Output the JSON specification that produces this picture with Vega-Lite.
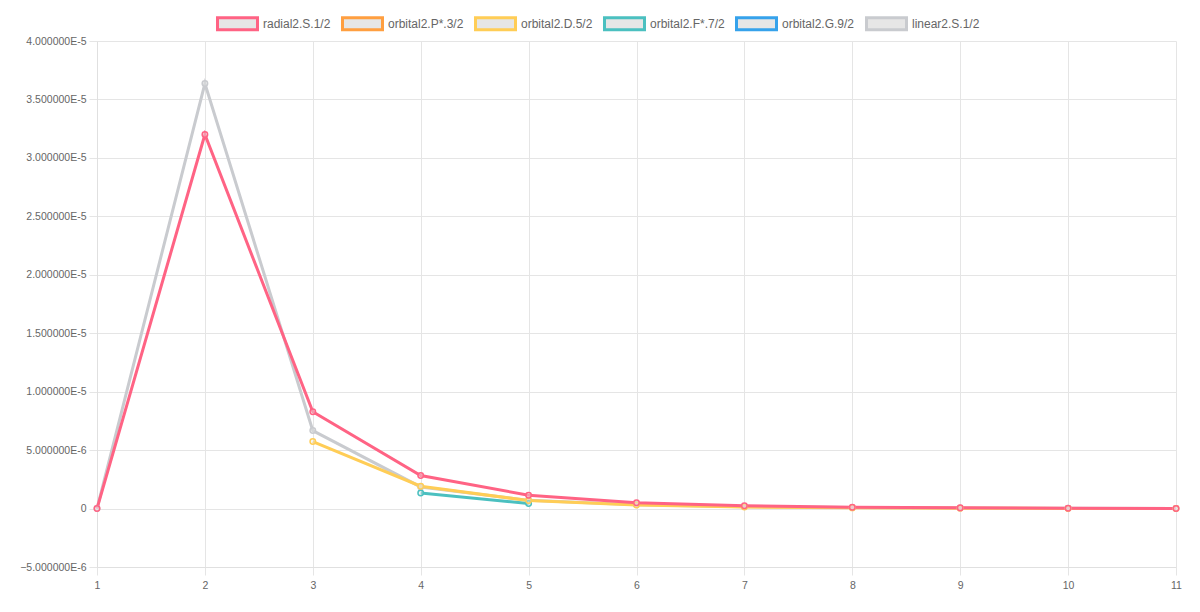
{
  "$schema": "https://vega.github.io/schema/vega-lite/v6.json",
  "autosize": "none",
  "width": 1079,
  "height": 526,
  "padding": {"left": 97, "top": 41, "right": 24, "bottom": 45},
  "background": "white",
  "config": {
    "view": {"stroke": null},
    "font": "Liberation Sans",
    "axis": {
      "gridColor": "#e5e5e5",
      "domainColor": "#e0e0e0",
      "tickColor": "#e5e5e5",
      "labelColor": "#666666",
      "labelFont": "Liberation Sans",
      "labelFontSize": 10.5,
      "tickSize": 8,
      "labelFlush": false,
      "labelOverlap": false,
      "title": null
    }
  },
  "data": {
    "values": [
      {"series": "linear2.S.1/2", "x": 1, "y": 0},
      {"series": "linear2.S.1/2", "x": 2, "y": 3.636e-5},
      {"series": "linear2.S.1/2", "x": 3, "y": 6.67e-6},
      {"series": "linear2.S.1/2", "x": 4, "y": 1.85e-6},
      {"series": "linear2.S.1/2", "x": 5, "y": 7.0e-7},
      {"series": "linear2.S.1/2", "x": 6, "y": 3.2e-7},
      {"series": "linear2.S.1/2", "x": 7, "y": 1.6e-7},
      {"series": "linear2.S.1/2", "x": 8, "y": 8e-8},
      {"series": "linear2.S.1/2", "x": 9, "y": 4e-8},
      {"series": "linear2.S.1/2", "x": 10, "y": 2e-8},
      {"series": "linear2.S.1/2", "x": 11, "y": 1e-8},
      {"series": "orbital2.F*.7/2", "x": 4, "y": 1.34e-6},
      {"series": "orbital2.F*.7/2", "x": 5, "y": 4.3e-7},
      {"series": "orbital2.D.5/2", "x": 3, "y": 5.73e-6},
      {"series": "orbital2.D.5/2", "x": 4, "y": 1.91e-6},
      {"series": "orbital2.D.5/2", "x": 5, "y": 6.8e-7},
      {"series": "orbital2.D.5/2", "x": 6, "y": 3.0e-7},
      {"series": "orbital2.D.5/2", "x": 7, "y": 1.3e-7},
      {"series": "orbital2.D.5/2", "x": 8, "y": 6e-8},
      {"series": "orbital2.D.5/2", "x": 9, "y": 3e-8},
      {"series": "orbital2.D.5/2", "x": 10, "y": 1e-8},
      {"series": "orbital2.D.5/2", "x": 11, "y": 0},
      {"series": "radial2.S.1/2", "x": 1, "y": 0},
      {"series": "radial2.S.1/2", "x": 2, "y": 3.2e-5},
      {"series": "radial2.S.1/2", "x": 3, "y": 8.28e-6},
      {"series": "radial2.S.1/2", "x": 4, "y": 2.82e-6},
      {"series": "radial2.S.1/2", "x": 5, "y": 1.14e-6},
      {"series": "radial2.S.1/2", "x": 6, "y": 5.0e-7},
      {"series": "radial2.S.1/2", "x": 7, "y": 2.4e-7},
      {"series": "radial2.S.1/2", "x": 8, "y": 1.2e-7},
      {"series": "radial2.S.1/2", "x": 9, "y": 6e-8},
      {"series": "radial2.S.1/2", "x": 10, "y": 3e-8},
      {"series": "radial2.S.1/2", "x": 11, "y": 0}
    ]
  },
  "encoding": {
    "x": {
      "field": "x", "type": "quantitative",
      "scale": {"domain": [1, 11], "nice": false, "zero": false},
      "axis": {"values": [1,2,3,4,5,6,7,8,9,10,11], "format": "d", "labelPadding": 5, "grid": true}
    },
    "y": {
      "field": "y", "type": "quantitative",
      "scale": {"domain": [-5e-6, 4e-5], "nice": false, "zero": false},
      "axis": {
        "values": [-5e-6, 0, 5e-6, 1e-5, 1.5e-5, 2e-5, 2.5e-5, 3e-5, 3.5e-5, 4e-5],
        "labelPadding": 3,
        "grid": true,
        "labelExpr": "abs(datum.value) < 1e-12 ? '0' : format(datum.value / pow(10, floor(log(abs(datum.value)) / LN10 + 1e-9)), '.6f') + 'E' + floor(log(abs(datum.value)) / LN10 + 1e-9)"
      }
    },
    "color": {
      "field": "series", "type": "nominal",
      "scale": {
        "domain": ["radial2.S.1/2", "orbital2.P*.3/2", "orbital2.D.5/2", "orbital2.F*.7/2", "orbital2.G.9/2", "linear2.S.1/2"],
        "range": ["#ff6384", "#ff9f40", "#ffcd56", "#4bc0c0", "#36a2eb", "#c9cbcf"]
      },
      "legend": {
        "orient": "none",
        "direction": "horizontal",
        "legendX": 119,
        "legendY": -39,
        "title": null,
        "symbolType": "M-1,-0.3H1V0.3H-1Z",
        "symbolSize": 1600,
        "symbolStrokeWidth": 3,
        "symbolFillColor": "#e6e6e6",
        "labelFont": "Liberation Sans",
        "labelFontSize": 12,
        "labelColor": "#666666",
        "labelOffset": 4,
        "columnPadding": 5,
        "encode": {
          "symbols": {"update": {"fill": {"value": "#e6e6e6"}, "fillOpacity": {"value": 1}}}
        }
      }
    }
  },
  "layer": [
    {"mark": {"type": "line", "strokeWidth": 3}},
    {"mark": {"type": "point", "filled": false, "size": 30, "strokeWidth": 1.5, "fill": "#e6e6e6", "fillOpacity": 0.4, "opacity": 1}}
  ]
}
